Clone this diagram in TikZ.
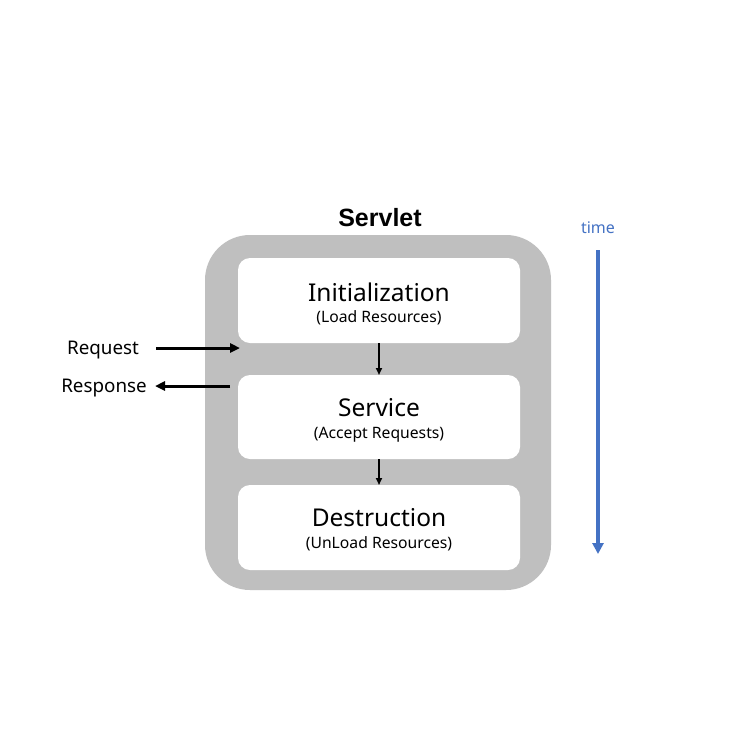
\documentclass[tikz,border=0pt]{standalone}
\usepackage{fontspec}
\setmainfont{Noto Sans}
\newfontfamily\headfont{Liberation Sans}
\usetikzlibrary{arrows.meta}
\definecolor{outergray}{HTML}{BFBFBF}
\definecolor{timeblue}{HTML}{4472C4}
\begin{document}
\begin{tikzpicture}[x=1pt,y=-1pt,
  stagebox/.style={draw=none,fill=white,rounded corners=12pt},
  title/.style={font=\fontsize{24.5}{26}\selectfont},
  sub/.style={font=\fontsize{15.7}{17}\selectfont},
  flow/.style={-{Triangle[length=7pt,width=6pt]},line width=1.8pt},
  io/.style={-{Triangle[length=10pt,width=9pt]},line width=3pt},
]
\useasboundingbox (0,0) rectangle (756,756);
\fill[white] (0,0) rectangle (756,756);
\node[font=\headfont\bfseries\fontsize{25}{27}\selectfont] (servlet) at (380,218) {Servlet};
\fill[outergray,rounded corners=45pt] (205,235) rectangle (551,590);
\coordinate (outer) at (205,235);
\fill[stagebox] (238,258) rectangle (520,343);
\fill[stagebox] (238,375) rectangle (520,459);
\fill[stagebox] (238,485) rectangle (520,570);
\coordinate (b1) at (379,343);
\coordinate (b2t) at (379,375);
\coordinate (b2) at (379,459);
\coordinate (b3t) at (379,485);
\node[title] (init) at (379,292) {Initialization};
\node[sub] (initsub) at (379,318) {(Load Resources)};
\node[title] (serv) at (379,408) {Service};
\node[sub] (servsub) at (379,435) {(Accept Requests)};
\node[title] (dest) at (379,518) {Destruction};
\node[sub] (destsub) at (379,544) {(UnLoad Resources)};
\draw[flow] (b1) -- (b2t);
\draw[flow] (b2) -- (b3t);
\node[font=\fontsize{18.8}{20}\selectfont] (req) at (103,350) {Request};
\node[font=\fontsize{18.8}{20}\selectfont] (resp) at (104,388) {Response};
\coordinate (reqs) at (156,348);
\coordinate (reqe) at (240,348);
\coordinate (resps) at (230,386);
\coordinate (respe) at (155,386);
\draw[io] (reqs) -- (reqe);
\draw[io] (resps) -- (respe);
\node[font=\fontsize{16}{18}\selectfont,text=timeblue] (time) at (598,228) {time};
\coordinate (ts) at (598,250);
\coordinate (te) at (598,554);
\draw[-{Triangle[length=11pt,width=11pt]},line width=4pt,timeblue] (ts) -- (te);
\end{tikzpicture}
\end{document}
